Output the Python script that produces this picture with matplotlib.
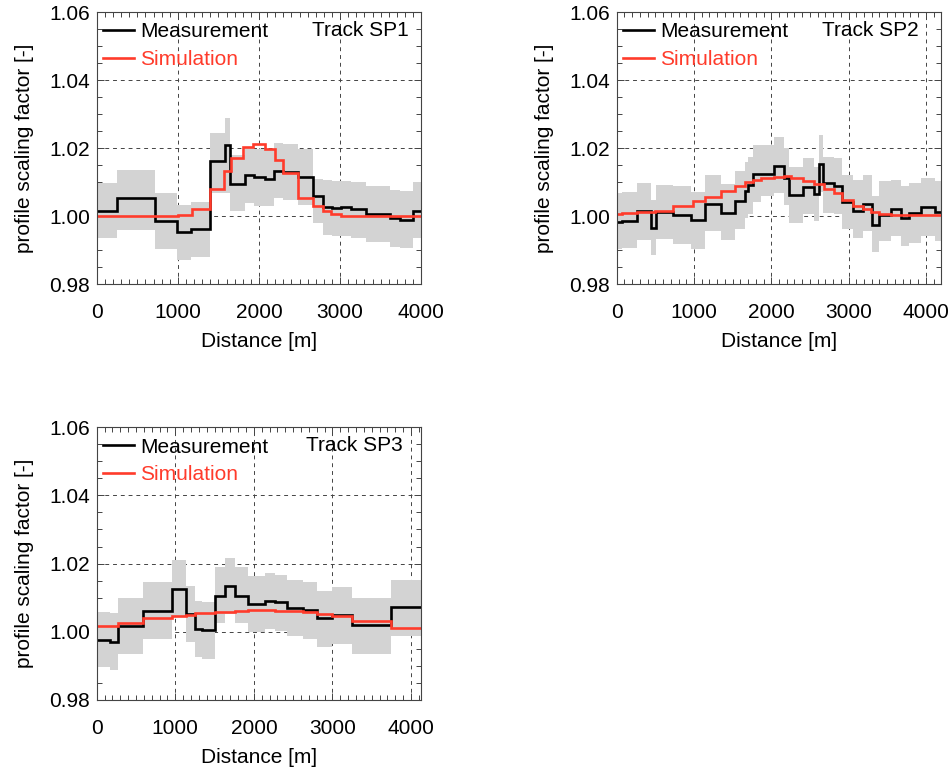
import numpy as np
import matplotlib.pyplot as plt
from matplotlib.ticker import MultipleLocator, FormatStrFormatter

plt.rcParams['font.family'] = ['Liberation Sans', 'DejaVu Sans']

# ---- Track SP1 ----
sp1_edges = [0, 245, 722, 988, 1163, 1396, 1580, 1641, 1825, 1939, 2069, 2184,
             2294, 2478, 2661, 2784, 2906, 3008, 3131, 3314, 3612, 3735, 3898, 4000]
sp1_meas = [1.0016, 1.0054, 0.9985, 0.9952, 0.9962, 1.0161, 1.0208, 1.0095,
            1.0121, 1.0114, 1.0108, 1.0131, 1.0129, 1.0114, 1.0059, 1.0026,
            1.0023, 1.0026, 1.0020, 1.0006, 0.9993, 0.9988, 1.0016]
sp1_hi = [1.0097, 1.0134, 1.0069, 1.0033, 1.0042, 1.0244, 1.0289, 1.0179,
          1.0203, 1.0197, 1.0193, 1.0215, 1.0212, 1.0197, 1.0108, 1.0106,
          1.0104, 1.0104, 1.0099, 1.0087, 1.0077, 1.0074, 1.0099]
sp1_lo = [0.9934, 0.9959, 0.9904, 0.9870, 0.9880, 1.0069, 1.0069, 1.0014,
          1.0037, 1.0029, 1.0028, 1.0052, 1.0047, 1.0033, 0.9978, 0.9944,
          0.9941, 0.9941, 0.9934, 0.9924, 0.9909, 0.9907, 0.9934]
sp1_sim_edges = [0, 1000, 1171, 1396, 1571, 1653, 1804, 1927, 2069, 2192, 2294,
                 2478, 2661, 2784, 2886, 3008, 4000]
sp1_sim = [1.0000, 1.0003, 1.0020, 1.0079, 1.0131, 1.0172, 1.0202, 1.0212,
           1.0197, 1.0165, 1.0128, 1.0052, 1.0028, 1.0016, 1.0006, 1.0001]

# ---- Track SP2 ----
sp2_edges = [0, 69, 267, 448, 513, 728, 965, 1138, 1345, 1534, 1655, 1698, 1763,
             1870, 2034, 2164, 2235, 2405, 2556, 2620, 2664, 2815, 2922, 3052,
             3181, 3300, 3397, 3547, 3677, 3784, 3935, 4116, 4200]
sp2_meas = [0.9981, 0.9985, 1.0015, 0.9966, 1.0011, 1.0003, 0.9988, 1.0036,
            1.0010, 1.0044, 1.0075, 1.0090, 1.0124, 1.0123, 1.0147, 1.0113,
            1.0062, 1.0086, 1.0066, 1.0154, 1.0096, 1.0089, 1.0040, 1.0015,
            1.0036, 0.9974, 1.0002, 1.0021, 0.9995, 1.0008, 1.0027, 1.0011]
sp2_hi = [1.0067, 1.0070, 1.0097, 1.0047, 1.0092, 1.0087, 1.0072, 1.0121,
          1.0094, 1.0131, 1.0160, 1.0175, 1.0210, 1.0210, 1.0232, 1.0199,
          1.0143, 1.0170, 1.0143, 1.0237, 1.0175, 1.0170, 1.0122, 1.0107,
          1.0122, 1.0060, 1.0102, 1.0107, 1.0088, 1.0098, 1.0112, 1.0102]
sp2_lo = [0.9904, 0.9906, 0.9929, 0.9885, 0.9933, 0.9918, 0.9904, 0.9956,
          0.9929, 0.9962, 0.9995, 1.0005, 1.0042, 1.0060, 1.0067, 1.0033,
          0.9980, 1.0005, 0.9985, 1.0072, 1.0010, 1.0005, 0.9961, 0.9934,
          0.9956, 0.9893, 0.9927, 0.9941, 0.9912, 0.9922, 0.9941, 0.9927]
sp2_sim_edges = [0, 69, 267, 491, 728, 987, 1138, 1345, 1534, 1655, 1763, 1870,
                 2034, 2164, 2255, 2405, 2556, 2685, 2815, 2922, 3052, 3181,
                 3289, 3397, 3547, 4200]
sp2_sim = [1.0005, 1.0008, 1.0011, 1.0016, 1.0028, 1.0044, 1.0057, 1.0074,
           1.0087, 1.0100, 1.0106, 1.0113, 1.0116, 1.0119, 1.0111, 1.0102,
           1.0093, 1.0080, 1.0068, 1.0047, 1.0029, 1.0020, 1.0012, 1.0007,
           1.0003]

# ---- Track SP3 ----
sp3_edges = [0, 170, 267, 594, 955, 1133, 1252, 1336, 1506, 1634, 1761, 1931,
             2143, 2270, 2419, 2631, 2800, 2991, 3246, 3746, 4130]
sp3_meas = [0.9977, 0.9970, 1.0017, 1.0062, 1.0125, 1.0052, 1.0008, 1.0005,
            1.0106, 1.0135, 1.0106, 1.0082, 1.0091, 1.0086, 1.0071, 1.0064,
            1.0041, 1.0049, 1.0019, 1.0072]
sp3_hi = [1.0059, 1.0054, 1.0099, 1.0145, 1.0210, 1.0133, 1.0089, 1.0086,
          1.0190, 1.0217, 1.0190, 1.0165, 1.0172, 1.0167, 1.0153, 1.0145,
          1.0121, 1.0130, 1.0099, 1.0153]
sp3_lo = [0.9897, 0.9889, 0.9936, 0.9980, 1.0044, 0.9970, 0.9926, 0.9921,
          1.0025, 1.0051, 1.0025, 1.0000, 1.0007, 1.0002, 0.9987, 0.9980,
          0.9956, 0.9963, 0.9936, 0.9987]
sp3_sim_edges = [0, 267, 594, 955, 1133, 1252, 1506, 1761, 1931, 2270, 2631,
                 2800, 2991, 3246, 3746, 4130]
sp3_sim = [1.0018, 1.0025, 1.0039, 1.0046, 1.0049, 1.0054, 1.0059, 1.0062,
           1.0064, 1.0061, 1.0057, 1.0051, 1.0047, 1.0033, 1.0012]

tracks = [
    ('Track SP1', sp1_edges, sp1_meas, sp1_lo, sp1_hi, sp1_sim_edges, sp1_sim, 4000),
    ('Track SP2', sp2_edges, sp2_meas, sp2_lo, sp2_hi, sp2_sim_edges, sp2_sim, 4200),
    ('Track SP3', sp3_edges, sp3_meas, sp3_lo, sp3_hi, sp3_sim_edges, sp3_sim, 4130),
]
positions = [[0.1016, 0.634, 0.3409, 0.3505],
             [0.6478, 0.634, 0.3409, 0.3505],
             [0.1016, 0.098, 0.3409, 0.3515]]
name_x = [0.96, 0.93, 0.943]

RED = '#ff3b2b'
fig = plt.figure(figsize=(9.52, 7.76), dpi=100)

for (name, edges, meas, lo, hi, sedges, sim, xmax), pos, nx in zip(tracks, positions, name_x):
    ax = fig.add_axes(pos)
    ax.set_axisbelow(True)
    ax.stairs(hi, edges, baseline=lo, fill=True, color='#d3d3d3', lw=0)
    ax.stairs(meas, edges, baseline=None, color='black', lw=1.9, label='Measurement')
    ax.stairs(sim, sedges, baseline=None, color=RED, lw=1.9, label='Simulation')

    ax.set_xlim(0, xmax)
    ax.set_ylim(0.98, 1.06)
    ax.xaxis.set_major_locator(MultipleLocator(1000))
    ax.xaxis.set_minor_locator(MultipleLocator(100))
    ax.yaxis.set_major_locator(MultipleLocator(0.02))
    ax.yaxis.set_minor_locator(MultipleLocator(0.005))
    ax.yaxis.set_major_formatter(FormatStrFormatter('%.2f'))
    ax.grid(True, which='major', color='#444444', lw=0.7, ls=(0, (4, 4)))
    ax.tick_params(which='both', direction='in', top=True, right=True,
                   labelsize=15, color='#444444')
    ax.tick_params(which='major', length=5, width=0.7)
    ax.tick_params(which='minor', length=3.5, width=0.7)
    ax.tick_params(axis='x', pad=14)
    ax.tick_params(axis='y', pad=5)
    for s in ax.spines.values():
        s.set_color('#444444')
        s.set_linewidth(0.8)

    ax.set_xlabel('Distance [m]', fontsize=15, labelpad=7)
    ax.set_ylabel('profile scaling factor [-]', fontsize=15, labelpad=11)

    ax.legend(loc='upper left', bbox_to_anchor=(0.019, 0.962), frameon=False,
              fontsize=15, handlelength=1.5, handletextpad=0.3, labelspacing=0.42,
              borderpad=0, borderaxespad=0, labelcolor='linecolor')
    ax.text(nx, 0.933, name, transform=ax.transAxes, ha='right', va='center',
            fontsize=15)

fig.savefig('out.png', dpi=100)
